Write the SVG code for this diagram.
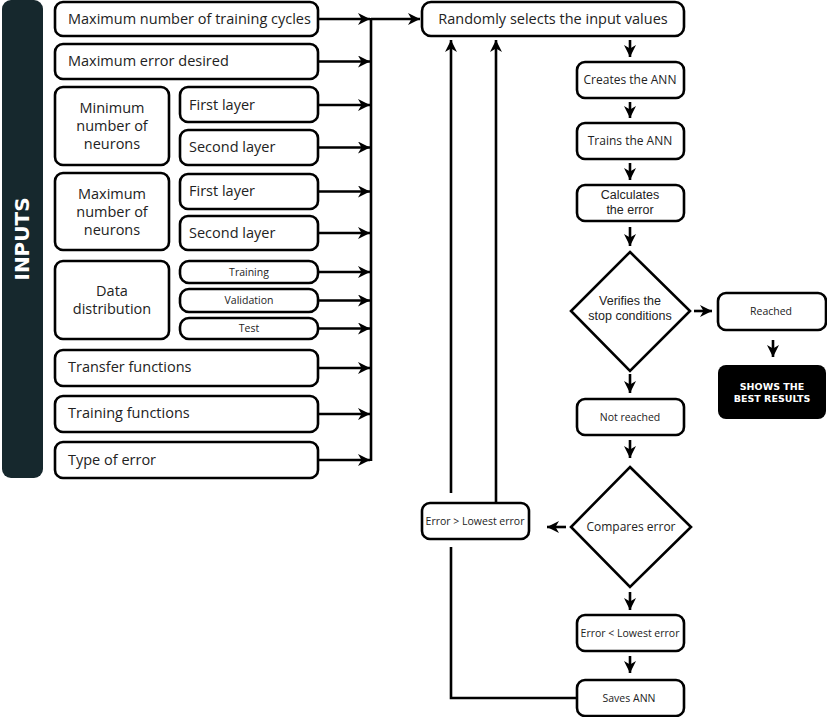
<svg xmlns="http://www.w3.org/2000/svg" width="827" height="717" viewBox="0 0 827 717">
<style>
.b{fill:#fff;stroke:#000;stroke-width:2.6}
.t{font-family:"Open Sans","Liberation Sans",sans-serif;fill:#222;font-size:14.5px}
.s{font-family:"Open Sans","Liberation Sans",sans-serif;fill:#222;font-size:12px}
.m{font-family:"Liberation Sans",Arial,sans-serif;fill:#222;font-size:12.5px}
.xs{font-family:"Open Sans","Liberation Sans",sans-serif;fill:#222;font-size:10.5px}
.c{fill:none;stroke:#000;stroke-width:2.6}
.a{marker-end:url(#ah)}
.w{font-family:"DejaVu Sans","Liberation Sans",sans-serif;font-weight:bold;fill:#fff}
</style>
<defs>
<marker id="ah" markerUnits="userSpaceOnUse" markerWidth="13" markerHeight="12" refX="12" refY="6" orient="auto">
<path d="M0,0 L12,6 L0,12 L3.5,6 z" fill="#000"/>
</marker>
</defs>
<rect width="827" height="717" fill="#fff"/>
<g id="inputs">
<rect x="2" y="0" width="41" height="478" rx="9" fill="#16282d"/>
<text class="w" transform="translate(29,239) rotate(-90)" text-anchor="middle" font-size="20">INPUTS</text>
</g>
<g id="maxcycles"><rect class="b" x="55" y="2" width="263" height="34" rx="8"/><text class="t" x="68" y="24">Maximum number of training cycles</text></g>
<g id="maxerror"><rect class="b" x="55" y="44" width="263" height="35" rx="8"/><text class="t" x="68" y="66">Maximum error desired</text></g>
<g id="minneurons"><rect class="b" x="55" y="87" width="114" height="78" rx="8"/><text class="t" text-anchor="middle" x="112" y="113">Minimum</text><text class="t" text-anchor="middle" x="112" y="131">number of</text><text class="t" text-anchor="middle" x="112" y="149">neurons</text></g>
<g id="min1"><rect class="b" x="180" y="87" width="138" height="35" rx="8"/><text class="t" x="189" y="110">First layer</text></g>
<g id="min2"><rect class="b" x="180" y="130" width="138" height="35" rx="8"/><text class="t" x="189" y="152">Second layer</text></g>
<g id="maxneurons"><rect class="b" x="55" y="173" width="114" height="77" rx="8"/><text class="t" text-anchor="middle" x="112" y="199">Maximum</text><text class="t" text-anchor="middle" x="112" y="217">number of</text><text class="t" text-anchor="middle" x="112" y="235">neurons</text></g>
<g id="max1"><rect class="b" x="180" y="174" width="138" height="35" rx="8"/><text class="t" x="189" y="196">First layer</text></g>
<g id="max2"><rect class="b" x="180" y="216" width="138" height="34" rx="8"/><text class="t" x="189" y="238">Second layer</text></g>
<g id="datadist"><rect class="b" x="55" y="261" width="114" height="78" rx="8"/><text class="t" text-anchor="middle" x="112" y="296">Data</text><text class="t" text-anchor="middle" x="112" y="314">distribution</text></g>
<g id="training"><rect class="b" x="180" y="261" width="138" height="22" rx="9"/><text class="xs" text-anchor="middle" x="249" y="276">Training</text></g>
<g id="validation"><rect class="b" x="180" y="289" width="138" height="23" rx="9"/><text class="xs" text-anchor="middle" x="249" y="304">Validation</text></g>
<g id="test"><rect class="b" x="180" y="318" width="138" height="21" rx="9"/><text class="xs" text-anchor="middle" x="249" y="332">Test</text></g>
<g id="transfer"><rect class="b" x="55" y="350" width="263" height="36" rx="8"/><text class="t" x="68" y="372">Transfer functions</text></g>
<g id="trainfunc"><rect class="b" x="55" y="396" width="263" height="36" rx="8"/><text class="t" x="68" y="418">Training functions</text></g>
<g id="typeerror"><rect class="b" x="55" y="442" width="263" height="36" rx="8"/><text class="t" x="68" y="465">Type of error</text></g>
<g id="random"><rect class="b" x="422" y="2" width="262" height="34" rx="9"/><text class="t" text-anchor="middle" x="553" y="24">Randomly selects the input values</text></g>
<g id="creates"><rect class="b" x="577" y="62" width="107" height="36" rx="8"/><text class="s" text-anchor="middle" x="630" y="84">Creates the ANN</text></g>
<g id="trains"><rect class="b" x="577" y="123" width="107" height="36" rx="8"/><text class="s" text-anchor="middle" x="630" y="145">Trains the ANN</text></g>
<g id="calculates"><rect class="b" x="577" y="185" width="107" height="36" rx="8"/><text class="m" text-anchor="middle" x="630" y="199">Calculates</text><text class="m" text-anchor="middle" x="630" y="213.5">the error</text></g>
<g id="verifies"><path class="b" d="M630,252 L690,311 L630,371 L571,311 z"/><text class="m" text-anchor="middle" x="630" y="305">Verifies the</text><text class="m" text-anchor="middle" x="630" y="319.5">stop conditions</text></g>
<g id="reached"><rect class="b" x="718" y="293" width="108" height="37" rx="8"/><text class="xs" text-anchor="middle" x="771" y="315" font-size="11">Reached</text></g>
<g id="shows"><rect x="718" y="365" width="108" height="54" rx="8" fill="#000"/><text class="w" text-anchor="middle" x="772" y="390" font-size="9.5">SHOWS THE</text><text class="w" text-anchor="middle" x="772" y="402" font-size="9.5">BEST RESULTS</text></g>
<g id="notreached"><rect class="b" x="577" y="399" width="107" height="36" rx="8"/><text class="xs" text-anchor="middle" x="630" y="421" font-size="11">Not reached</text></g>
<g id="compares"><path class="b" d="M630,467 L691,527 L630,587 L571,527 z"/><text class="s" text-anchor="middle" x="631" y="531" font-size="13.5">Compares error</text></g>
<g id="greater"><rect class="b" x="422" y="503" width="107" height="36" rx="8"/><text class="xs" text-anchor="middle" x="475" y="525" font-size="10">Error &gt; Lowest error</text></g>
<g id="less"><rect class="b" x="577" y="615" width="107" height="36" rx="8"/><text class="xs" text-anchor="middle" x="630" y="637" font-size="10">Error &lt; Lowest error</text></g>
<g id="saves"><rect class="b" x="577" y="680" width="107" height="36" rx="8"/><text class="xs" text-anchor="middle" x="629" y="702" font-size="11">Saves ANN</text></g>
<g id="connectors">
<path class="c a" d="M318,19 H370"/>
<path class="c a" d="M371,19 H420"/>
<path class="c" d="M371,18 V461"/>
<path class="c a" d="M318,61.5 H370"/>
<path class="c a" d="M318,105 H370"/>
<path class="c a" d="M318,147.5 H370"/>
<path class="c a" d="M318,191.5 H370"/>
<path class="c a" d="M318,233 H370"/>
<path class="c a" d="M318,272 H370"/>
<path class="c a" d="M318,300.5 H370"/>
<path class="c a" d="M318,328.5 H370"/>
<path class="c a" d="M318,368 H370"/>
<path class="c a" d="M318,414 H370"/>
<path class="c a" d="M318,460 H370"/>
<path class="c a" d="M630,40 V57"/>
<path class="c a" d="M630,102 V118"/>
<path class="c a" d="M630,163 V180"/>
<path class="c a" d="M630,227 V246"/>
<path class="c a" d="M694,311 H712"/>
<path class="c a" d="M773,340 V357"/>
<path class="c a" d="M630,374 V393"/>
<path class="c a" d="M630,440 V458"/>
<path class="c a" d="M566,527 H547"/>
<path class="c a" d="M630,592 V610"/>
<path class="c a" d="M630,656 V673"/>
<path class="c" d="M577,698 H451 V547"/>
<path class="c a" d="M451,493 V40"/>
<path class="c a" d="M496,503 V40"/>
</g>
</svg>
